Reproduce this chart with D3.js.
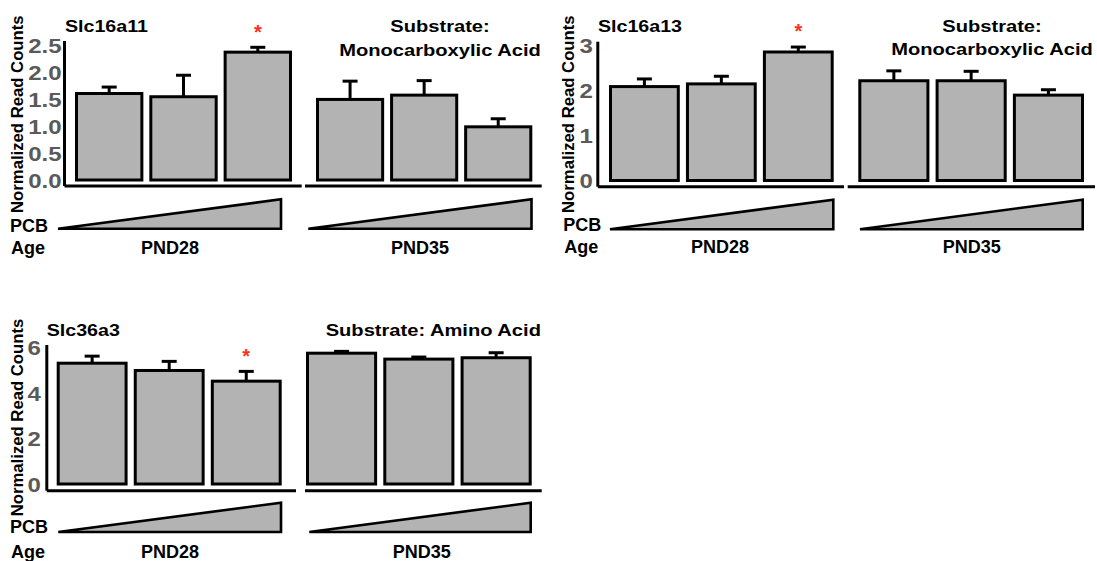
<!DOCTYPE html>
<html>
<head>
<meta charset="utf-8">
<script src="https://cdn.jsdelivr.net/npm/d3@7"></script>
<style>
  html, body { margin: 0; padding: 0; background: #fff; }
  svg { display: block; }
</style>
</head>
<body>
<svg id="chart" width="1097" height="561"></svg>
<script>
// ---- data -------------------------------------------------------------
const ages = ["PND28", "PND35"];
const doseLevels = ["vehicle", "low", "high"];

// Slc16a11 (monocarboxylic acid transporter)
const slc16a11Mean = [[1.61, 1.55, 2.38], [1.50, 1.58, 0.99]];
const slc16a11Sem  = [[0.12, 0.40, 0.09], [0.34, 0.27, 0.15]];
const slc16a11Sig  = [[false, false, true], [false, false, false]];
const slc16a11Ticks = [0, 0.5, 1, 1.5, 2, 2.5];

// Slc16a13 (monocarboxylic acid transporter)
const slc16a13Mean = [[2.09, 2.15, 2.86], [2.22, 2.22, 1.90]];
const slc16a13Sem  = [[0.17, 0.17, 0.11], [0.22, 0.21, 0.12]];
const slc16a13Sig  = [[false, false, true], [false, false, false]];
const slc16a13Ticks = [0, 1, 2, 3];

// Slc36a3 (amino acid transporter)
const slc36a3Mean = [[5.31, 4.99, 4.52], [5.75, 5.49, 5.55]];
const slc36a3Sem  = [[0.31, 0.40, 0.43], [0.08, 0.09, 0.22]];
const slc36a3Sig  = [[false, false, true], [false, false, false]];
const slc36a3Ticks = [0, 2, 4, 6];

// ---- styling ----------------------------------------------------------
const FONT = "'Liberation Sans', Arial, Helvetica, sans-serif";
const BAR_FILL = "#b3b3b3";
const TICK_GREY = "#5a5a5a";
const STAR_RED = "#ff2d1a";

const svg = d3.select("#chart");

// bold text, optionally widened horizontally around its anchor point
function label(parent, x, y, str, size, opts = {}) {
  const sx = opts.sx || 1;
  return parent.append("text")
    .attr("transform", `translate(${x},${y}) scale(${sx},1)`)
    .attr("text-anchor", opts.anchor || "start")
    .attr("font-family", FONT)
    .attr("font-weight", "bold")
    .attr("font-size", size)
    .attr("fill", opts.fill || "#000")
    .text(str);
}

function drawPanel(cfg) {
  const g = svg.append("g");
  const y = d3.scaleLinear().domain([0, cfg.yMax]).range([cfg.zeroY, cfg.topTickY]);

  // y axis: grey bold tick labels, no tick marks
  const yAxis = d3.axisLeft(y)
    .tickValues(cfg.ticks)
    .tickFormat(d3.format(cfg.fmt))
    .tickSize(0)
    .tickPadding(cfg.pad);
  const ya = g.append("g").attr("transform", `translate(${cfg.axisX},0)`).call(yAxis);
  ya.select(".domain").remove();
  ya.selectAll(".tick text")
    .attr("x", null)
    .attr("dy", "0.36em")
    .attr("transform", `translate(${-cfg.pad},0) scale(1.2,1)`)
    .attr("font-family", FONT)
    .attr("font-weight", "bold")
    .attr("font-size", 20)
    .attr("fill", TICK_GREY);

  g.append("line")
    .attr("x1", cfg.axisX).attr("x2", cfg.axisX)
    .attr("y1", cfg.axisTop).attr("y2", cfg.baseY)
    .attr("stroke", "#000").attr("stroke-width", 3);

  // y axis title
  g.append("text")
    .attr("transform", `translate(${cfg.yTitleX},${cfg.yTitleY}) rotate(-90)`)
    .attr("text-anchor", "middle")
    .attr("font-family", FONT)
    .attr("font-weight", "bold")
    .attr("font-size", 16.7)
    .text("Normalized Read Counts");

  // gene name and substrate heading
  label(g, cfg.geneX, cfg.geneY, cfg.gene, 16.5, { sx: 1.19 });
  cfg.substrate.forEach((line, i) => {
    label(g, cfg.subX, cfg.subY[i], line, 17.2, { sx: 1.17, anchor: "middle" });
  });

  label(g, cfg.pcbX, cfg.pcbY, "PCB", 18);
  label(g, cfg.pcbX + 1, cfg.ageY, "Age", 18);

  ages.forEach((age, gi) => {
    const x = d3.scaleBand()
      .domain(doseLevels)
      .range(cfg.bands[gi])
      .paddingInner(0.08)
      .paddingOuter(0);
    const rows = doseLevels.map((d, i) => ({
      dose: d,
      mean: cfg.mean[gi][i],
      sem: cfg.sem[gi][i],
      sig: cfg.sig[gi][i]
    }));
    const grp = g.append("g");

    // error bars (upper whisker only)
    const eb = grp.selectAll("g.err").data(rows).join("g").attr("class", "err");
    eb.append("line")
      .attr("x1", d => x(d.dose) + x.bandwidth() / 2)
      .attr("x2", d => x(d.dose) + x.bandwidth() / 2)
      .attr("y1", d => y(d.mean))
      .attr("y2", d => y(d.mean + d.sem))
      .attr("stroke", "#000").attr("stroke-width", 3);
    eb.append("line")
      .attr("x1", d => x(d.dose) + x.bandwidth() / 2 - 7.5)
      .attr("x2", d => x(d.dose) + x.bandwidth() / 2 + 7.5)
      .attr("y1", d => y(d.mean + d.sem))
      .attr("y2", d => y(d.mean + d.sem))
      .attr("stroke", "#000").attr("stroke-width", 3);

    // bars
    grp.selectAll("rect.bar").data(rows).join("rect")
      .attr("class", "bar")
      .attr("x", d => x(d.dose) + 1.5)
      .attr("width", x.bandwidth() - 3)
      .attr("y", d => y(d.mean))
      .attr("height", d => y(0) - y(d.mean))
      .attr("fill", BAR_FILL)
      .attr("stroke", "#000")
      .attr("stroke-width", 3);

    // significance markers
    grp.selectAll("text.star").data(rows.filter(d => d.sig)).join("text")
      .attr("class", "star")
      .attr("x", d => x(d.dose) + x.bandwidth() / 2)
      .attr("y", d => y(d.mean + d.sem) - 8.6)
      .attr("text-anchor", "middle")
      .attr("font-family", FONT)
      .attr("font-weight", "bold")
      .attr("font-size", 20)
      .attr("fill", STAR_RED)
      .text("*");

    // baseline segment for this age group
    const seg = cfg.segs[gi];
    grp.append("line")
      .attr("x1", seg[0]).attr("x2", seg[1])
      .attr("y1", cfg.baseY).attr("y2", cfg.baseY)
      .attr("stroke", "#000").attr("stroke-width", 3);

    // PCB dose ramp
    const t = cfg.tri[gi];
    grp.append("path")
      .attr("d", d3.line()([[t[0], cfg.triBot], [t[1], cfg.triTop], [t[1], cfg.triBot]]) + "Z")
      .attr("fill", BAR_FILL)
      .attr("stroke", "#000")
      .attr("stroke-width", 2.6)
      .attr("stroke-linejoin", "miter")
      .attr("stroke-miterlimit", 12);

    label(grp, cfg.ageCenters[gi], cfg.ageY, age, 18, { anchor: "middle" });
  });
}

drawPanel({
  gene: "Slc16a11", mean: slc16a11Mean, sem: slc16a11Sem, sig: slc16a11Sig,
  ticks: slc16a11Ticks, fmt: ".1f", yMax: 2.5, pad: 3,
  axisX: 64.5, axisTop: 41, baseY: 186, zeroY: 180, topTickY: 45.7,
  bands: [[75, 292], [316, 532.3]],
  segs: [[64.5, 301.7], [305, 541.7]],
  tri: [[58, 281], [308.3, 531.5]], triTop: 199.3, triBot: 228.7,
  geneX: 65, geneY: 32,
  substrate: ["Substrate:", "Monocarboxylic Acid"], subX: 440, subY: [32, 55.5],
  yTitleX: 23.3, yTitleY: 114.2,
  pcbX: 10, pcbY: 231.7, ageY: 253.5, ageCenters: [170, 420]
});

drawPanel({
  gene: "Slc16a13", mean: slc16a13Mean, sem: slc16a13Sem, sig: slc16a13Sig,
  ticks: slc16a13Ticks, fmt: "d", yMax: 3, pad: 5,
  axisX: 597.8, axisTop: 41.7, baseY: 186.7, zeroY: 180.5, topTickY: 45.7,
  bands: [[609, 833.7], [858.3, 1084]],
  segs: [[597.8, 844], [847.7, 1095]],
  tri: [[610, 833.3], [860, 1082.7]], triTop: 199.7, triBot: 229.2,
  geneX: 598, geneY: 32,
  substrate: ["Substrate:", "Monocarboxylic Acid"], subX: 992, subY: [32, 55],
  yTitleX: 574, yTitleY: 114.2,
  pcbX: 563.3, pcbY: 230.5, ageY: 253, ageCenters: [720, 971.7]
});

drawPanel({
  gene: "Slc36a3", mean: slc36a3Mean, sem: slc36a3Sem, sig: slc36a3Sig,
  ticks: slc36a3Ticks, fmt: "d", yMax: 6, pad: 6,
  axisX: 46.8, axisTop: 345, baseY: 490.7, zeroY: 484, topTickY: 347.5,
  bands: [[56.7, 281.7], [306, 531.7]],
  segs: [[46.8, 296], [305, 541.7]],
  tri: [[58.3, 281], [309.3, 530.7]], triTop: 502.7, triBot: 532,
  geneX: 46.7, geneY: 335.7,
  substrate: ["Substrate: Amino Acid"], subX: 433.3, subY: [336],
  yTitleX: 23.3, yTitleY: 417.5,
  pcbX: 10, pcbY: 533.3, ageY: 558, ageCenters: [170, 421.7]
});
</script>
</body>
</html>
